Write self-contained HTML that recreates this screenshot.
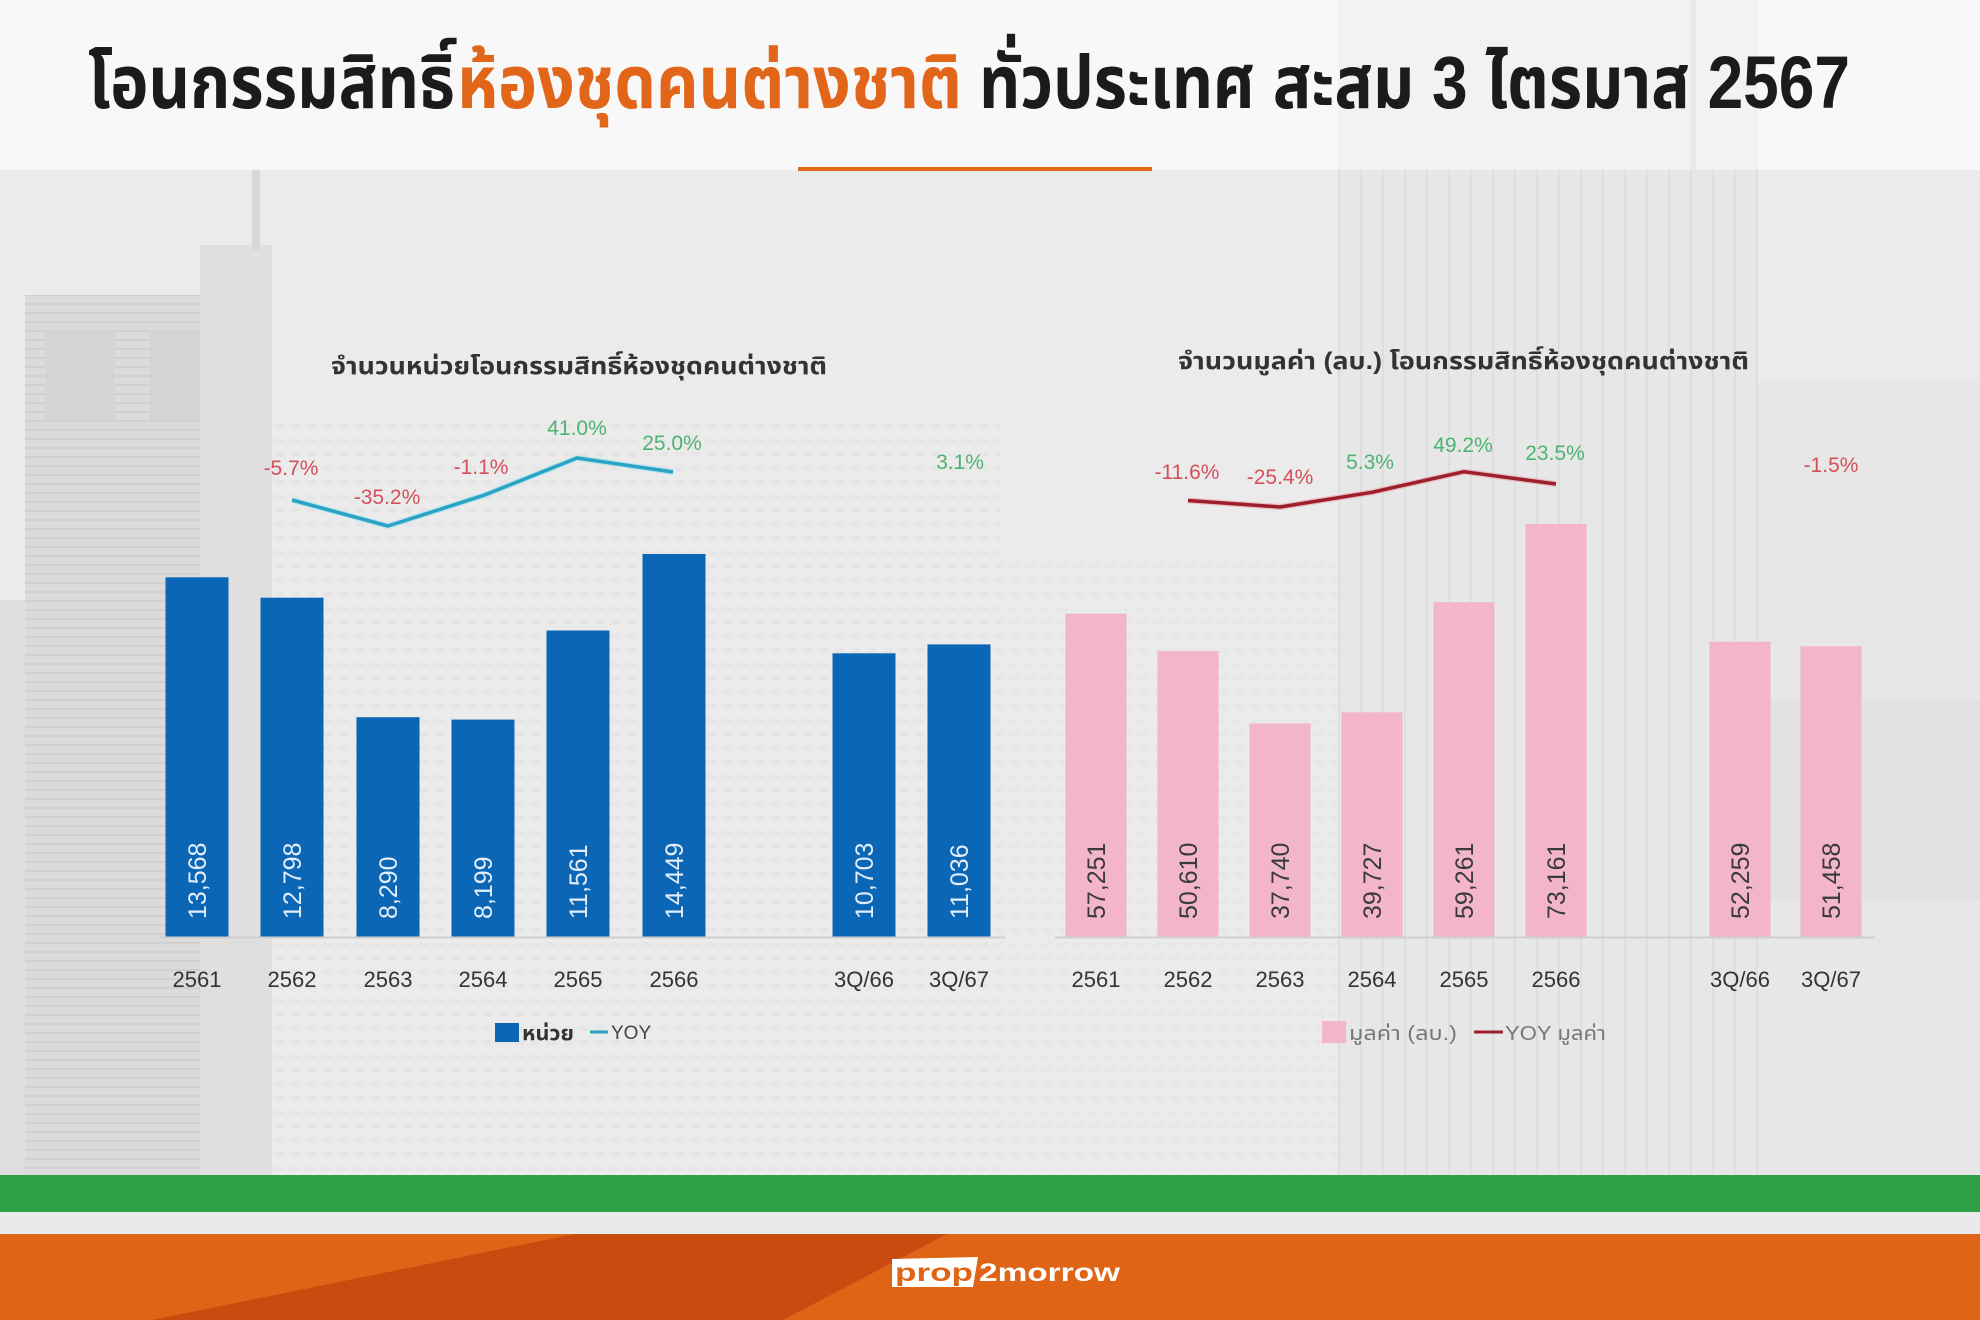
<!DOCTYPE html>
<html>
<head>
<meta charset="utf-8">
<style>
html,body{margin:0;padding:0;width:1980px;height:1320px;overflow:hidden;background:#ebebeb;}
svg{display:block;}
text{font-family:"Liberation Sans","Noto Sans Thai","Loma","Garuda","Tlwg Typo","Noto Sans CJK SC",sans-serif;}
</style>
</head>
<body>
<svg width="1980" height="1320" viewBox="0 0 1980 1320" xmlns="http://www.w3.org/2000/svg">
  <defs>
    <pattern id="hstripe" width="10" height="9" patternUnits="userSpaceOnUse">
      <rect width="10" height="9" fill="#dbdbdb"/>
      <rect y="6" width="10" height="2" fill="#d0d0d0"/>
    </pattern>
    <pattern id="vstripe" width="22" height="10" patternUnits="userSpaceOnUse">
      <rect width="22" height="10" fill="#e7e7e7"/>
      <rect x="18" width="2" height="10" fill="#dedede"/>
    </pattern>
    <pattern id="win" width="16" height="14" patternUnits="userSpaceOnUse">
      <rect width="16" height="14" fill="#eaeaea"/>
      <rect x="3" y="4" width="9" height="5" fill="#e1e1e1"/>
    </pattern>
  </defs>

  <!-- background -->
  <rect x="0" y="0" width="1980" height="1320" fill="#ebebeb"/>
  <rect x="220" y="420" width="780" height="760" fill="url(#win)" opacity="0.5"/>
  <rect x="1000" y="560" width="340" height="620" fill="url(#win)" opacity="0.4"/>
  <rect x="1338" y="0" width="420" height="1175" fill="url(#vstripe)"/>
  <rect x="1758" y="380" width="222" height="795" fill="#e7e7e7"/>
  <rect x="1758" y="700" width="222" height="200" fill="#e2e2e2"/>
  <!-- left tall building -->
  <rect x="25" y="295" width="190" height="880" fill="url(#hstripe)"/>
  <rect x="45" y="330" width="70" height="90" fill="#d4d4d4"/>
  <rect x="150" y="330" width="55" height="90" fill="#d4d4d4"/>
  <rect x="200" y="245" width="72" height="930" fill="#dfdfdf"/>
  <rect x="252" y="140" width="8" height="110" fill="#d8d8d8"/>
  <rect x="0" y="600" width="25" height="575" fill="#dedede"/>
  <!-- top white band -->
  <rect x="0" y="0" width="1980" height="170" fill="#f8f8f8"/>
  <rect x="1338" y="0" width="420" height="170" fill="#f2f2f2"/>
  <rect x="1690" y="0" width="6" height="170" fill="#e9e9e9"/>

  <!-- main title -->
  <text x="88" y="108" font-size="74" font-weight="bold" fill="#1b1b1b" textLength="367" lengthAdjust="spacingAndGlyphs">โอนกรรมสิทธิ์</text>
  <text x="457" y="108" font-size="74" font-weight="bold" fill="#e2661a" textLength="505" lengthAdjust="spacingAndGlyphs">ห้องชุดคนต่างชาติ</text>
  <text x="979" y="108" font-size="74" font-weight="bold" fill="#1b1b1b" textLength="871" lengthAdjust="spacingAndGlyphs">ทั่วประเทศ สะสม 3 ไตรมาส 2567</text>
  <rect x="798" y="167" width="354" height="4" fill="#e06a1a"/>

  <!-- ===== LEFT CHART ===== -->
  <text x="331" y="374" font-size="24" font-weight="bold" fill="#333" textLength="496" lengthAdjust="spacingAndGlyphs">จำนวนหน่วยโอนกรรมสิทธิ์ห้องชุดคนต่างชาติ</text>

  <g fill="#0b67b6">
    <rect x="165.5" y="577.3" width="63" height="359.7"/>
    <rect x="260.5" y="597.7" width="63" height="339.3"/>
    <rect x="356.5" y="717.2" width="63" height="219.8"/>
    <rect x="451.5" y="719.6" width="63" height="217.4"/>
    <rect x="546.5" y="630.5" width="63" height="306.5"/>
    <rect x="642.5" y="554" width="63" height="383"/>
    <rect x="832.5" y="653.3" width="63" height="283.7"/>
    <rect x="927.5" y="644.4" width="63" height="292.6"/>
  </g>
  <line x1="160" y1="937.5" x2="1005" y2="937.5" stroke="#cfcfcf" stroke-width="2"/>
  <g font-size="25" fill="#e4edf8">
    <text transform="translate(206,919) rotate(-90)">13,568</text>
    <text transform="translate(301,919) rotate(-90)">12,798</text>
    <text transform="translate(397,919) rotate(-90)">8,290</text>
    <text transform="translate(492,919) rotate(-90)">8,199</text>
    <text transform="translate(587,919) rotate(-90)">11,561</text>
    <text transform="translate(683,919) rotate(-90)">14,449</text>
    <text transform="translate(873,919) rotate(-90)">10,703</text>
    <text transform="translate(968,919) rotate(-90)">11,036</text>
  </g>
  <g font-size="22" fill="#333" text-anchor="middle">
    <text x="197" y="987">2561</text>
    <text x="292" y="987">2562</text>
    <text x="388" y="987">2563</text>
    <text x="483" y="987">2564</text>
    <text x="578" y="987">2565</text>
    <text x="674" y="987">2566</text>
    <text x="864" y="987">3Q/66</text>
    <text x="959" y="987">3Q/67</text>
  </g>
  <polyline points="292,500 388,526 483,495.6 577,458 673,472" fill="none" stroke="#9fe0ee" stroke-width="6" stroke-linejoin="round" opacity="0.6"/>
  <polyline points="292,500 388,526 483,495.6 577,458 673,472" fill="none" stroke="#2aa3c4" stroke-width="3.5" stroke-linejoin="round"/>
  <g font-size="21" text-anchor="middle">
    <text x="291" y="475" fill="#d4505a">-5.7%</text>
    <text x="387" y="504" fill="#d4505a">-35.2%</text>
    <text x="481" y="474" fill="#d4505a">-1.1%</text>
    <text x="577" y="435" fill="#4cb370">41.0%</text>
    <text x="672" y="450" fill="#4cb370">25.0%</text>
    <text x="960" y="469" fill="#4cb370">3.1%</text>
  </g>
  <!-- left legend -->
  <rect x="495" y="1023" width="24" height="19" fill="#0b67b6"/>
  <text x="522" y="1040" font-size="20" font-weight="bold" fill="#333" textLength="52" lengthAdjust="spacingAndGlyphs">หน่วย</text>
  <line x1="590" y1="1032" x2="608" y2="1032" stroke="#2aa3c4" stroke-width="3"/>
  <text x="611" y="1039" font-size="19" fill="#444">YOY</text>

  <!-- ===== RIGHT CHART ===== -->
  <text x="1178" y="369" font-size="24" font-weight="bold" fill="#333" textLength="571" lengthAdjust="spacingAndGlyphs">จำนวนมูลค่า (ลบ.) โอนกรรมสิทธิ์ห้องชุดคนต่างชาติ</text>

  <g fill="#f3b5ca">
    <rect x="1065.5" y="613.6" width="61" height="323.4"/>
    <rect x="1157.5" y="651" width="61" height="286"/>
    <rect x="1249.5" y="723.5" width="61" height="213.5"/>
    <rect x="1341.5" y="712.3" width="61" height="224.7"/>
    <rect x="1433.5" y="602.3" width="61" height="334.7"/>
    <rect x="1525.5" y="524" width="61" height="413"/>
    <rect x="1709.5" y="641.7" width="61" height="295.3"/>
    <rect x="1800.5" y="646.2" width="61" height="290.8"/>
  </g>
  <line x1="1055" y1="937.5" x2="1875" y2="937.5" stroke="#cfcfcf" stroke-width="2"/>
  <g font-size="25" fill="#3a3a3a">
    <text transform="translate(1105,919) rotate(-90)">57,251</text>
    <text transform="translate(1197,919) rotate(-90)">50,610</text>
    <text transform="translate(1289,919) rotate(-90)">37,740</text>
    <text transform="translate(1381,919) rotate(-90)">39,727</text>
    <text transform="translate(1473,919) rotate(-90)">59,261</text>
    <text transform="translate(1565,919) rotate(-90)">73,161</text>
    <text transform="translate(1749,919) rotate(-90)">52,259</text>
    <text transform="translate(1840,919) rotate(-90)">51,458</text>
  </g>
  <g font-size="22" fill="#333" text-anchor="middle">
    <text x="1096" y="987">2561</text>
    <text x="1188" y="987">2562</text>
    <text x="1280" y="987">2563</text>
    <text x="1372" y="987">2564</text>
    <text x="1464" y="987">2565</text>
    <text x="1556" y="987">2566</text>
    <text x="1740" y="987">3Q/66</text>
    <text x="1831" y="987">3Q/67</text>
  </g>
  <polyline points="1188,500.5 1280,507 1372,492.3 1464,471.7 1556,484" fill="none" stroke="#e7a0a8" stroke-width="6" stroke-linejoin="round" opacity="0.6"/>
  <polyline points="1188,500.5 1280,507 1372,492.3 1464,471.7 1556,484" fill="none" stroke="#9e1f2c" stroke-width="3.5" stroke-linejoin="round"/>
  <g font-size="21" text-anchor="middle">
    <text x="1187" y="479" fill="#d4505a">-11.6%</text>
    <text x="1280" y="484" fill="#d4505a">-25.4%</text>
    <text x="1370" y="469" fill="#4cb370">5.3%</text>
    <text x="1463" y="452" fill="#4cb370">49.2%</text>
    <text x="1555" y="460" fill="#4cb370">23.5%</text>
    <text x="1831" y="472" fill="#d4505a">-1.5%</text>
  </g>
  <!-- right legend -->
  <rect x="1322" y="1021" width="24" height="22" fill="#f3b5ca"/>
  <text x="1349" y="1040" font-size="20" fill="#777" textLength="108" lengthAdjust="spacingAndGlyphs">มูลค่า (ลบ.)</text>
  <line x1="1474" y1="1032" x2="1503" y2="1032" stroke="#9e1f2c" stroke-width="3"/>
  <text x="1505" y="1040" font-size="20" fill="#777" textLength="101" lengthAdjust="spacingAndGlyphs">YOY มูลค่า</text>

  <!-- green band -->
  <rect x="0" y="1175" width="1980" height="37" fill="#2ea145"/>
  <rect x="0" y="1212" width="1980" height="22" fill="#eaeaea"/>

  <!-- orange footer -->
  <rect x="0" y="1234" width="1980" height="86" fill="#df6415"/>
  <polygon points="575,1234 947,1234 783,1320 152,1320" fill="#c94b10"/>
  <!-- logo -->
  <polygon points="892,1259 978,1257 973,1287 892,1287" fill="#ffffff"/>
  <text x="895" y="1281" font-size="25" font-weight="bold" fill="#df6415" textLength="78" lengthAdjust="spacingAndGlyphs">prop</text>
  <text x="979" y="1281" font-size="25" font-weight="bold" fill="#ffffff" textLength="141" lengthAdjust="spacingAndGlyphs">2morrow</text>
</svg>
</body>
</html>
